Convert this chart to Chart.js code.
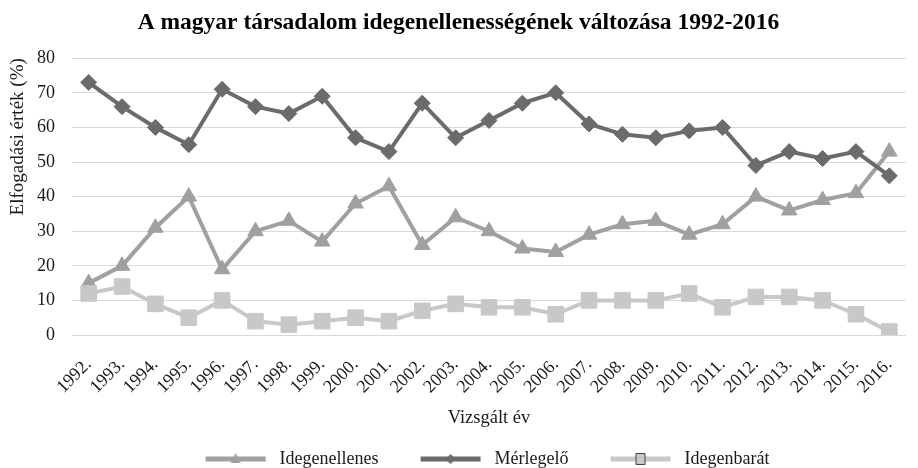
<!DOCTYPE html>
<html lang="hu">
<head>
    <meta charset="UTF-8">
    <title>A magyar társadalom idegenellenességének változása 1992-2016</title>
    <script src="https://cdn.jsdelivr.net/npm/chart.js"></script>
    <style>
        body { margin: 0; background: #fff; }
        .chart-container { width: 918px; height: 468px; }
    </style>
</head>
<body>
    <div class="chart-container">
        <canvas id="chart" width="918" height="468"></canvas>
    </div>

    <script>
        const years = ['1992.', '1993.', '1994.', '1995.', '1996.', '1997.', '1998.', '1999.', '2000.',
            '2001.', '2002.', '2003.', '2004.', '2005.', '2006.', '2007.', '2008.', '2009.', '2010.',
            '2011.', '2012.', '2013.', '2014.', '2015.', '2016.'];
        const idegenellenes = [15, 20, 31, 40, 19, 30, 33, 27, 38, 43, 26, 34, 30, 25, 24, 29, 32, 33, 29, 32, 40, 36, 39, 41, 53];
        const merlegelo = [73, 66, 60, 55, 71, 66, 64, 69, 57, 53, 67, 57, 62, 67, 70, 61, 58, 57, 59, 60, 49, 53, 51, 53, 46];
        const idegenbarat = [12, 14, 9, 5, 10, 4, 3, 4, 5, 4, 7, 9, 8, 8, 6, 10, 10, 10, 12, 8, 11, 11, 10, 6, 1];
        const yMin = 0, yMax = 80, yStep = 10;

        const FONT = '"Liberation Serif", "Times New Roman", serif';
        const TEXT = '#1a1a1a';

        // legend icon: line + marker, like the Excel legend
        const ICON_W = 97;
        function legendIcon(color, shape) {
            const lead = 32, len = 60;
            const c = document.createElement('canvas');
            c.width = ICON_W;
            c.height = 14;
            const ctx = c.getContext('2d');
            const cx = lead + len / 2, cy = 7;
            ctx.strokeStyle = color;
            ctx.lineWidth = 5;
            ctx.beginPath();
            ctx.moveTo(lead, cy);
            ctx.lineTo(lead + len, cy);
            ctx.stroke();
            ctx.fillStyle = color;
            ctx.beginPath();
            if (shape === 'triangle') {
                ctx.moveTo(cx, cy - 6);
                ctx.lineTo(cx + 5, cy + 4);
                ctx.lineTo(cx - 5, cy + 4);
                ctx.closePath();
                ctx.fill();
            } else if (shape === 'diamond') {
                ctx.moveTo(cx, cy - 5);
                ctx.lineTo(cx + 5, cy);
                ctx.lineTo(cx, cy + 5);
                ctx.lineTo(cx - 5, cy);
                ctx.closePath();
                ctx.fill();
            } else {
                ctx.rect(cx - 4.5, cy - 5.5, 9, 11);
                ctx.fill();
                ctx.lineWidth = 1;
                ctx.strokeStyle = '#404040';
                ctx.stroke();
            }
            return c;
        }

        const cAnti = '#a0a0a0', cMid = '#6b6b6b', cPro = '#c8c8c8';
        const icons = [legendIcon(cAnti, 'triangle'), legendIcon(cMid, 'diamond'), legendIcon(cPro, 'square')];

        // nudge the legend row a bit to the right, as in the original
        const legendShift = {
            id: 'legendShift',
            afterLayout(chart) {
                chart.legend.left += 13;
                chart.legend.right += 13;
            }
        };

        new Chart(document.getElementById('chart'), {
            type: 'line',
            data: {
                labels: years,
                datasets: [
                    {
                        label: 'Idegenellenes', data: idegenellenes, order: 3,
                        borderColor: cAnti, backgroundColor: cAnti, borderWidth: 4,
                        pointStyle: 'triangle', pointRadius: 9, pointBorderWidth: 1, tension: 0
                    },
                    {
                        label: 'Mérlegelő', data: merlegelo, order: 2,
                        borderColor: cMid, backgroundColor: cMid, borderWidth: 4,
                        pointStyle: 'rectRot', pointRadius: 8, pointBorderWidth: 1, tension: 0
                    },
                    {
                        label: 'Idegenbarát', data: idegenbarat, order: 1,
                        borderColor: cPro, backgroundColor: cPro, borderWidth: 4,
                        pointStyle: 'rect', pointRadius: 11, pointBorderWidth: 1, tension: 0
                    }
                ]
            },
            plugins: [legendShift],
            options: {
                responsive: false,
                animation: false,
                layout: { padding: { left: 0, right: 1, top: 0, bottom: -10 } },
                plugins: {
                    tooltip: { enabled: false },
                    title: {
                        display: true,
                        text: 'A magyar társadalom idegenellenességének változása 1992-2016',
                        color: '#000',
                        font: { family: FONT, size: 23.5, weight: 'bold' },
                        padding: { top: 9, bottom: 21 }
                    },
                    legend: {
                        position: 'bottom',
                        labels: {
                            color: TEXT,
                            font: { family: FONT, size: 18 },
                            usePointStyle: true,
                            pointStyleWidth: ICON_W,
                            padding: 10,
                            sort: (a, b) => a.datasetIndex - b.datasetIndex,
                            generateLabels: (chart) => chart.data.datasets.map((ds, i) => ({
                                text: ds.label,
                                pointStyle: icons[i],
                                datasetIndex: i,
                                fontColor: TEXT,
                                lineWidth: 0,
                                hidden: false
                            }))
                        }
                    }
                },
                scales: {
                    x: {
                        offset: true,
                        grid: { display: false },
                        border: { display: false },
                        ticks: {
                            color: TEXT,
                            font: { family: FONT, size: 18 },
                            minRotation: 45, maxRotation: 45,
                            autoSkip: false,
                            padding: 11
                        },
                        title: {
                            display: true,
                            text: 'Vizsgált év',
                            color: TEXT,
                            font: { family: FONT, size: 18.5 },
                            padding: { top: 4, bottom: 11 }
                        },
                        afterFit: (scale) => { scale.height = 105; }
                    },
                    y: {
                        min: yMin, max: yMax,
                        grid: { color: '#d9d9d9', lineWidth: 1, drawTicks: false },
                        border: { display: false },
                        ticks: {
                            stepSize: yStep,
                            color: TEXT,
                            font: { family: FONT, size: 18 },
                            padding: 17
                        },
                        title: {
                            display: true,
                            text: 'Elfogadási érték (%)',
                            align: 'end',
                            color: TEXT,
                            font: { family: FONT, size: 19 },
                            padding: { top: 7, bottom: 4 }
                        },
                        afterFit: (scale) => { scale.width = 72; }
                    }
                }
            }
        });
    </script>
</body>
</html>
